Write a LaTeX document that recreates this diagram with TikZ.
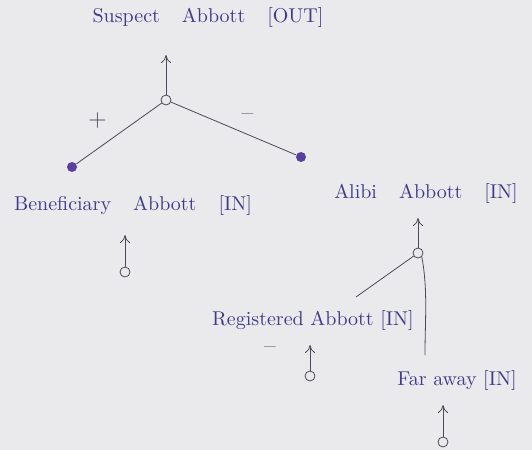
\documentclass[tikz,border=0pt]{standalone}
\usepackage{xcolor}
\usepackage{tikz}
\usetikzlibrary{arrows.meta,positioning,calc}
\definecolor{pp}{HTML}{EAEAEC}
\definecolor{ink}{HTML}{3F3A8C}
\definecolor{ln}{HTML}{4A4A5A}
\definecolor{dt}{HTML}{5A3FA0}
\newcommand{\gap}{\hspace{11pt}}
\tikzset{
  lbl/.style={text=ink, font=\normalsize, inner sep=1pt},
  sgn/.style={text=ln, font=\large, inner sep=1pt},
  jn/.style={circle, draw=ln, thin, inner sep=0pt, minimum size=5pt},
  tip/.style={circle, fill=dt, inner sep=0pt, minimum size=5pt},
  link/.style={ln, thin},
  up/.style={ln, thin, -{To[length=4pt,width=5pt]}},
}
\begin{document}
\begin{tikzpicture}[x=0.5pt, y=-0.5pt]
  \fill[pp] (0,0) rectangle (532,450);
  \useasboundingbox (0,0) rectangle (532,450);
  % conclusion
  \node[lbl] (sus) at (208,17) {Suspect\gap Abbott\gap [OUT]};
  \node[jn] (j1) at (166,100) {};
  \coordinate (susin) at (166,55);
  \draw[up] (j1) -- (susin);
  \node[tip] (bend) at (72,167) {};
  \node[tip] (aend) at (301,157) {};
  \draw[link] (j1) -- (bend) node[sgn, pos=0.55, above left=4pt] (plus) {+};
  \draw[link] (j1) -- (aend) node[sgn, pos=0.5, above right=4pt] (minus) {--};
  % arguments
  \node[lbl] (ben) at (133,205) {Beneficiary\gap Abbott\gap [IN]};
  \node[jn] (bin) at (125,272) {};
  \coordinate (bentop) at (125,235);
  \draw[up] (bin) -- (bentop);
  \node[lbl] (alb) at (426,193) {Alibi\gap Abbott\gap [IN]};
  \node[jn] (j2) at (418,253) {};
  \coordinate (albin) at (418,218);
  \draw[up] (j2) -- (albin);
  \coordinate (regend) at (356,297);
  \coordinate (farend) at (425,355);
  \draw[link] (j2) -- (regend);
  \draw[link] (j2.south east) .. controls (428,290) and (425,320) .. (farend);
  \node[lbl] (reg) at (313,320) {Registered Abbott [IN]};
  \node[sgn] (regsgn) at (270,350) {--};
  \node[jn] (rin) at (310,376) {};
  \coordinate (regtop) at (310,345);
  \draw[up] (rin) -- (regtop);
  \node[lbl] (far) at (457,380) {Far away [IN]};
  \node[jn] (fin) at (443,442) {};
  \coordinate (fartop) at (443,405);
  \draw[up] (fin) -- (fartop);
\end{tikzpicture}
\end{document}
